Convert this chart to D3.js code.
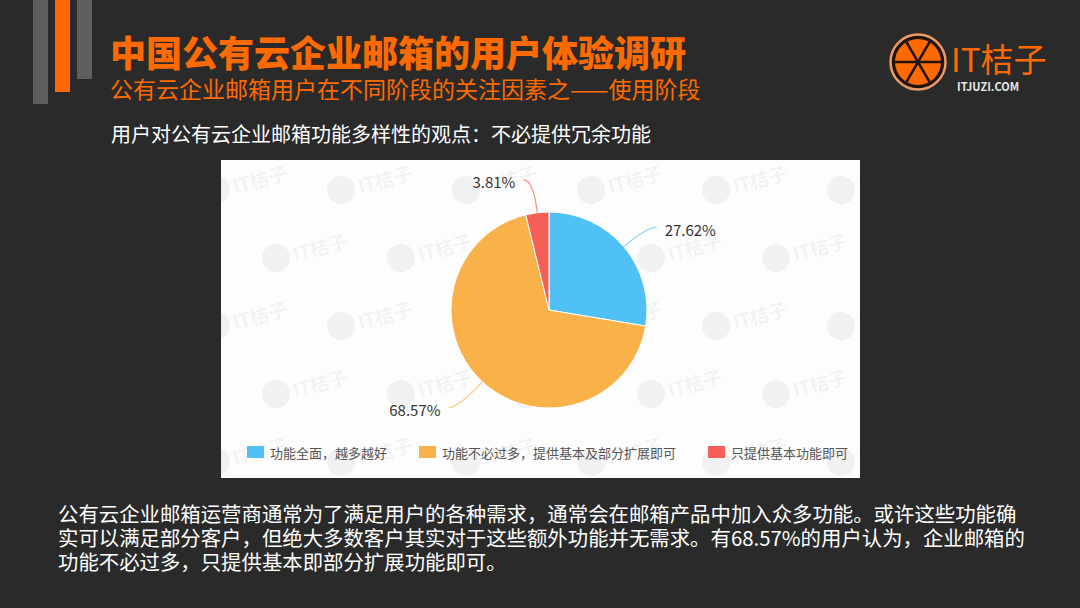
<!DOCTYPE html>
<html>
<head>
<meta charset="utf-8">
<script src="https://cdn.jsdelivr.net/npm/d3@7"></script>
<style>
  html, body { margin: 0; padding: 0; background: #2a2a2a; }
  svg { display: block; }
  text { font-family: "Noto Sans CJK SC", "Noto Sans", sans-serif; }
</style>
</head>
<body>
<div id="chart"></div>
<script>
// données du graphique
const categories = ["功能全面，越多越好", "功能不必过多，提供基本及部分扩展即可", "只提供基本功能即可"];
const values = [27.62, 68.57, 3.81];
const valueLabels = ["27.62%", "68.57%", "3.81%"];
const colors = ["#4fc1f6", "#f9b14a", "#f45f58"];

const title = "中国公有云企业邮箱的用户体验调研";
const subtitle = "公有云企业邮箱用户在不同阶段的关注因素之——使用阶段";
const chartTitle = "用户对公有云企业邮箱功能多样性的观点：不必提供冗余功能";
const bodyLines = [
  "公有云企业邮箱运营商通常为了满足用户的各种需求，通常会在邮箱产品中加入众多功能。或许这些功能确",
  "实可以满足部分客户，但绝大多数客户其实对于这些额外功能并无需求。有68.57%的用户认为，企业邮箱的",
  "功能不必过多，只提供基本即部分扩展功能即可。"
];

//---------------------------------------------------------------------------------------

// canevas
const width = 1080;
const height = 608;
const orange = "#ff6a00";

const svg = d3.select("#chart")
  .append("svg")
  .attr("width", width)
  .attr("height", height)
  .attr("viewBox", [0, 0, width, height]);

svg.append("rect").attr("width", width).attr("height", height).attr("fill", "#2a2a2a");

// barres décoratives en haut à gauche
svg.append("rect").attr("x", 33).attr("y", 0).attr("width", 15).attr("height", 104).attr("fill", "#5f5f5f");
svg.append("rect").attr("x", 55).attr("y", 0).attr("width", 15).attr("height", 92).attr("fill", orange);
svg.append("rect").attr("x", 77).attr("y", 0).attr("width", 15).attr("height", 79).attr("fill", "#5f5f5f");

// titraille
svg.append("text")
  .attr("x", 110).attr("y", 51)
  .attr("dominant-baseline", "central")
  .attr("font-size", 36).attr("font-weight", 900)
  .attr("fill", orange)
  .text(title);

svg.append("text")
  .attr("x", 110).attr("y", 88)
  .attr("dominant-baseline", "central")
  .attr("font-size", 23)
  .attr("fill", orange)
  .text(subtitle);

svg.append("text")
  .attr("x", 111).attr("y", 133)
  .attr("dominant-baseline", "central")
  .attr("font-size", 20)
  .attr("fill", "#ffffff")
  .text(chartTitle);

// logo IT桔子
const logo = svg.append("g").attr("transform", "translate(918, 62)");
logo.append("circle").attr("r", 27.5).attr("fill", "#1e1410").attr("stroke", "#ec9a66").attr("stroke-width", 2.5);
logo.append("circle").attr("r", 23).attr("fill", orange);
[0, 60, 120].forEach(a => {
  const rad = a * Math.PI / 180;
  logo.append("line")
    .attr("x1", -23 * Math.cos(rad)).attr("y1", -23 * Math.sin(rad))
    .attr("x2", 23 * Math.cos(rad)).attr("y2", 23 * Math.sin(rad))
    .attr("stroke", "#1e1410").attr("stroke-width", 2.5);
});
svg.append("text")
  .attr("x", 951).attr("y", 58)
  .attr("dominant-baseline", "central")
  .attr("font-size", 33)
  .attr("fill", orange)
  .text("IT桔子");
svg.append("text")
  .attr("x", 957).attr("y", 86)
  .attr("dominant-baseline", "central")
  .attr("font-size", 11).attr("font-weight", 700)
  .attr("fill", "#e8e8e8")
  .text("ITJUZI.COM");

//---------------------------------------------------------------------------------------

// panneau blanc du graphique
const panel = { x: 221, y: 160, w: 639, h: 318 };
svg.append("rect")
  .attr("x", panel.x).attr("y", panel.y)
  .attr("width", panel.w).attr("height", panel.h)
  .attr("fill", "#fdfdfd");

svg.append("clipPath").attr("id", "panel-clip")
  .append("rect")
  .attr("x", panel.x).attr("y", panel.y)
  .attr("width", panel.w).attr("height", panel.h);

// filigranes
const wm = svg.append("g").attr("clip-path", "url(#panel-clip)");
for (let row = 0; row < 5; row++) {
  for (let col = 0; col < 6; col++) {
    const wx = panel.x + 25 + col * 125 + (row % 2) * 60 - 30;
    const wy = panel.y + 30 + row * 68;
    const g = wm.append("g").attr("transform", `translate(${wx}, ${wy}) rotate(-15)`);
    g.append("circle").attr("r", 14).attr("fill", "#f1f1f1");
    g.append("text")
      .attr("x", 18).attr("dominant-baseline", "central")
      .attr("font-size", 19).attr("fill", "#f0f0f0")
      .text("IT桔子");
  }
}

//---------------------------------------------------------------------------------------

// camembert
const cx = 549;
const cy = 310;
const radius = 98;
const leaderLen = [30, 35, 33]; // longueur radiale des lignes de rappel
const leaderH = 10;

const pie = d3.pie().sort(null).value(d => d)(values);
const arc = d3.arc().innerRadius(0).outerRadius(radius);

const pieG = svg.append("g").attr("transform", `translate(${cx}, ${cy})`);

pieG.selectAll("path")
  .data(pie)
  .join("path")
  .attr("d", arc)
  .attr("fill", (d, i) => colors[i])
  .attr("stroke", "#ffffff")
  .attr("stroke-width", 1);

// lignes de rappel et étiquettes
pie.forEach((d, i) => {
  const mid = (d.startAngle + d.endAngle) / 2;
  const sx = radius * Math.sin(mid), sy = -radius * Math.cos(mid);
  const r2 = radius + leaderLen[i];
  const ex = r2 * Math.sin(mid), ey = -r2 * Math.cos(mid);
  const right = Math.sin(mid) >= 0;
  const hx = ex + (right ? leaderH : -leaderH);

  pieG.append("path")
    .attr("d", `M${sx},${sy} Q${ex},${ey} ${hx},${ey}`)
    .attr("fill", "none")
    .attr("stroke", colors[i])
    .attr("stroke-opacity", 0.7)
    .attr("stroke-width", 1.2);

  pieG.append("text")
    .attr("x", hx + (right ? 8 : -8))
    .attr("y", ey + 2)
    .attr("dominant-baseline", "central")
    .attr("text-anchor", right ? "start" : "end")
    .attr("font-size", 15)
    .attr("fill", "#333333")
    .text(valueLabels[i]);
});

// légende
const legend = svg.append("g").attr("transform", "translate(247, 452)");
let lx = 0;
categories.forEach((c, i) => {
  const item = legend.append("g").attr("transform", `translate(${lx}, 0)`);
  item.append("rect")
    .attr("x", 0).attr("y", -6)
    .attr("width", 17).attr("height", 12)
    .attr("fill", colors[i]);
  const t = item.append("text")
    .attr("x", 23)
    .attr("dominant-baseline", "central")
    .attr("font-size", 13)
    .attr("fill", "#555555")
    .text(c);
  lx += 23 + t.node().getComputedTextLength() + 32;
});

//---------------------------------------------------------------------------------------

// texte de commentaire
svg.append("g")
  .selectAll("text")
  .data(bodyLines)
  .join("text")
  .attr("x", 58)
  .attr("y", (d, i) => 513 + i * 24)
  .attr("dominant-baseline", "central")
  .attr("font-size", 20.4)
  .attr("fill", "#ffffff")
  .text(d => d);
</script>
</body>
</html>
